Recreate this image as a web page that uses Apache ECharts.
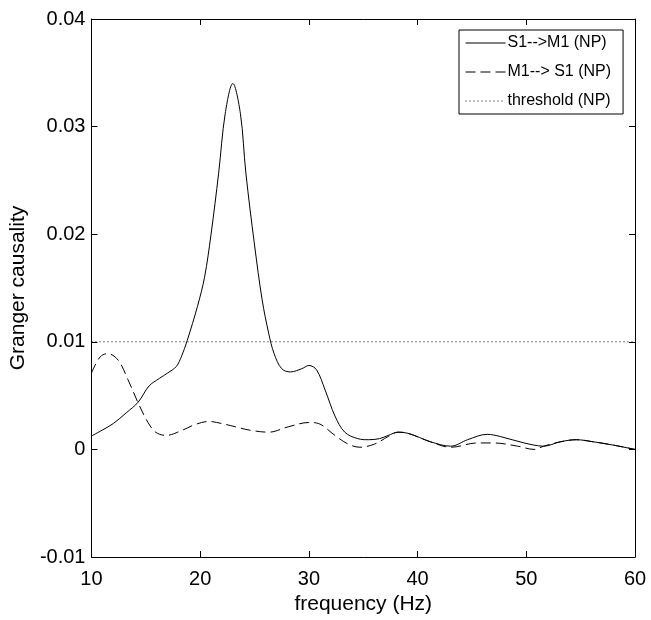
<!DOCTYPE html>
<html>
<head>
<meta charset="utf-8">
<script src="https://cdn.jsdelivr.net/npm/echarts@6/dist/echarts.min.js"></script>
<style>html,body{margin:0;padding:0;background:#fff;}#c{width:651px;height:620px;}</style>
</head>
<body>
<div id="c"></div>
<script>
// Data
var freqS = [10.0,11.0,12.0,13.2,14.3,15.3,16.25,17.0,17.8,18.3,18.8,19.75,20.4,21.0,21.7,22.3,23.0,23.7,24.2,25.0,25.7,26.3,26.8,27.5,28.3,29.35,30.0,30.7,31.5,32.4,33.3,34.5,35.5,36.5,37.3,38.2,39.1,40.2,41.2,43.05,44.6,46.4,47.6,49.8,51.6,53.1,54.6,56.2,58.0,60.0];
var valS  = [0.00124,0.0018,0.0024,0.0034,0.0044,0.0059,0.0066,0.0071,0.0077,0.0087,0.0101,0.0133,0.0160,0.0200,0.0257,0.0312,0.0340,0.0312,0.0257,0.0190,0.0139,0.0108,0.0089,0.0075,0.0072,0.0075,0.0078,0.0074,0.0055,0.0031,0.0016,0.0010,0.0009,0.0010,0.0013,0.0016,0.0015,0.0011,0.0007,0.0003,0.0009,0.0014,0.0012,0.0006,0.0003,0.0007,0.0009,0.0007,0.0004,0.0000];
var freqD = [10.0,10.8,11.5,12.45,13.35,14.3,15.2,15.9,16.85,18.4,19.5,20.8,22.0,23.25,24.5,26.3,28.1,30.0,30.9,32.4,33.6,34.7,36.05,37.3,38.2,39.1,41.2,43.05,45.5,47.0,49.2,50.7,51.6,53.1,54.6,56.2,58.0,60.0];
var valD  = [0.0071,0.0086,0.0089,0.0083,0.0065,0.0043,0.0025,0.0016,0.0013,0.0018,0.0023,0.0026,0.0024,0.0021,0.0018,0.0016,0.0021,0.0025,0.0024,0.0013,0.0005,0.0002,0.0005,0.0012,0.0016,0.0015,0.0007,0.0002,0.0006,0.0006,0.0003,0.0000,0.0003,0.0007,0.0009,0.0007,0.0004,0.0000];
var freqT = [10, 60];
var valT  = [0.01, 0.01];
var seriesNames = ['S1-->M1 (NP)', 'M1--> S1 (NP)', 'threshold (NP)'];
var xTicks = ['10','20','30','40','50','60'];
var yTicks = ['-0.01','0','0.01','0.02','0.03','0.04'];

function pairs(xs, ys){ return xs.map(function(x,i){ return [x, ys[i]]; }); }

var font = 'Liberation Sans, Arial, Helvetica, sans-serif';
var chart = echarts.init(document.getElementById('c'), null, {renderer:'canvas'});
var axisLine = {show:true, onZero:false, lineStyle:{color:'#000', width:1}};
var tick = {show:true, inside:true, length:6, lineStyle:{color:'#000', width:1}};
chart.setOption({
  animation:false,
  backgroundColor:'#fff',
  grid:{left:88, right:16, top:19, bottom:63, containLabel:false},
  legend:{
    orient:'vertical', left:459, top:30,
    padding:[4,12,4,6], itemGap:11, itemWidth:40, itemHeight:14,
    backgroundColor:'#fff', borderColor:'#000', borderWidth:1, borderRadius:0,
    itemStyle:{opacity:0},
    lineStyle:{width:1},
    textStyle:{fontFamily:font, fontSize:16, color:'#000', padding:[0,0,0,-3], lineHeight:18},
    data:seriesNames.map(function(n){return {name:n};})
  },
  xAxis:[{
    type:'value', min:10, max:60, interval:10, position:'bottom',
    name:'frequency (Hz)', nameLocation:'middle', nameGap:30,
    nameTextStyle:{fontFamily:font, fontSize:21, color:'#000'},
    axisLine:axisLine, axisTick:tick, splitLine:{show:false},
    axisLabel:{fontFamily:font, fontSize:20, color:'#000', margin:12,
      formatter:function(v){ var i=Math.round((v-10)/10); return xTicks[i]!==undefined?xTicks[i]:''; }}
  },{
    type:'value', min:10, max:60, interval:10, position:'top',
    axisLine:axisLine, axisTick:tick, splitLine:{show:false}, axisLabel:{show:false}
  }],
  yAxis:[{
    type:'value', min:-0.01, max:0.04, interval:0.01, position:'left',
    name:'Granger causality', nameLocation:'middle', nameGap:61, nameRotate:90,
    nameTextStyle:{fontFamily:font, fontSize:21, color:'#000'},
    axisLine:axisLine, axisTick:tick, splitLine:{show:false},
    axisLabel:{fontFamily:font, fontSize:20, color:'#000', margin:6,
      formatter:function(v){ var i=Math.round((v+0.01)/0.01); return yTicks[i]!==undefined?yTicks[i]:''; }}
  },{
    type:'value', min:-0.01, max:0.04, interval:0.01, position:'right',
    axisLine:axisLine, axisTick:tick, splitLine:{show:false}, axisLabel:{show:false}
  }],
  series:[
    {name:seriesNames[0], type:'line', data:pairs(freqS,valS), smooth:0.35, symbol:'none',
     lineStyle:{color:'#000', width:1, type:'solid'}, itemStyle:{color:'#000'}},
    {name:seriesNames[1], type:'line', data:pairs(freqD,valD), smooth:0.35, symbol:'none',
     lineStyle:{color:'#000', width:1, type:[10,5]}, itemStyle:{color:'#000'}},
    {name:seriesNames[2], type:'line', data:pairs(freqT,valT), symbol:'none',
     lineStyle:{color:'#000', width:1, type:[1,3]}, itemStyle:{color:'#000'}}
  ]
});
</script>
</body>
</html>
